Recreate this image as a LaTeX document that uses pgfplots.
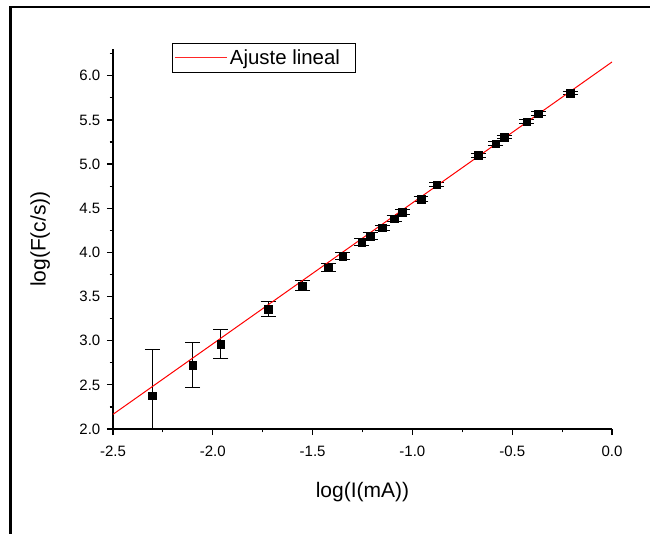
\documentclass[border=0pt]{standalone}
\usepackage{fontspec}
\setmainfont{Liberation Sans}
\usepackage{pgfplots}
\pgfplotsset{compat=1.18}
\begin{document}
\begin{tikzpicture}
\path[use as bounding box] (0pt,0pt) rectangle (487.5pt,399.75pt);
\draw[line width=1.8pt] (7.8pt,-5pt) -- (7.8pt,394.5pt) -- (495pt,394.5pt);
\begin{axis}[
  at={(84.75pt,78pt)}, anchor=south west,
  scale only axis,
  width=374.25pt, height=284.8pt,
  xmin=-2.5, xmax=0, ymin=2.0, ymax=6.3,
  axis x line*=bottom, axis y line*=left,
  axis line style={line width=1.1pt, -},
  xtick={-2.5,-2.0,-1.5,-1.0,-0.5,0.0},
  ytick={2.0,2.5,3.0,3.5,4.0,4.5,5.0,5.5,6.0},
  minor xtick={-2.25,-1.75,-1.25,-0.75,-0.25},
  minor ytick={2.25,2.75,3.25,3.75,4.25,4.75,5.25,5.75,6.25},
  tick align=outside,
  major tick length=4.5pt, minor tick length=2.6pt,
  every tick/.style={black, line width=0.9pt},
  /pgf/number format/assume math mode=true,
  /pgf/number format/.cd, fixed, fixed zerofill, precision=1, /pgfplots/.cd,
  tick label style={font=\fontsize{11.25}{13}\selectfont, black},
  xticklabel style={yshift=-5pt},
  yticklabel style={xshift=-1.5pt},
  xlabel={log(I(mA))}, ylabel={log(F(c/s))},
  label style={font=\fontsize{15.75}{18}\selectfont},
  x label style={at={(axis description cs:0.5,-0.166)}, anchor=center},
  y label style={at={(axis description cs:-0.146,0.5)}, anchor=center},
  legend style={at={(axis description cs:0.118,1.0166)}, anchor=north west,
    draw=black, line width=0.6pt, inner xsep=1.5pt, inner ysep=2.5pt,
    font=\fontsize{15.3}{17}\selectfont},
  legend cell align=left,
  legend image code/.code={\draw[red!85!white, line width=0.75pt] (0pt,0pt) -- (39pt,0pt);},
]
\addplot[only marks, mark=square*, mark size=2.9pt, black,
  error bars/.cd, y dir=both, y explicit,
  error bar style={line width=0.75pt, black},
  error mark options={rotate=90, mark size=5.6pt, line width=0.75pt, black}]
  coordinates {
  (-2.303,2.377) +- (0,0.518)
  (-2.101,2.721) +- (0,0.256)
  (-1.960,2.963) +- (0,0.162)
  (-1.723,3.359) +- (0,0.085)
  (-1.550,3.623) +- (0,0.060)
  (-1.421,3.827) +- (0,0.047)
  (-1.349,3.959) +- (0,0.040)
  (-1.254,4.118) +- (0,0.035)
  (-1.212,4.186) +- (0,0.035)
  (-1.151,4.280) +- (0,0.030)
  (-1.092,4.382) +- (0,0.030)
  (-1.051,4.458) +- (0,0.030)
  (-0.957,4.605) +- (0,0.025)
  (-0.878,4.767) +- (0,0.025)
  (-0.670,5.097) +- (0,0.020)
  (-0.583,5.231) +- (0,0.020)
  (-0.540,5.307) +- (0,0.020)
  (-0.427,5.480) +- (0,0.020)
  (-0.369,5.571) +- (0,0.020)
  (-0.210,5.805) +- (0,0.020)
  };
\addplot[red, line width=0.75pt, no marks] coordinates {(-2.5,2.166) (0,6.156)};
\addlegendentry{Ajuste lineal\hspace*{8pt}}
\end{axis}
\end{tikzpicture}
\end{document}
